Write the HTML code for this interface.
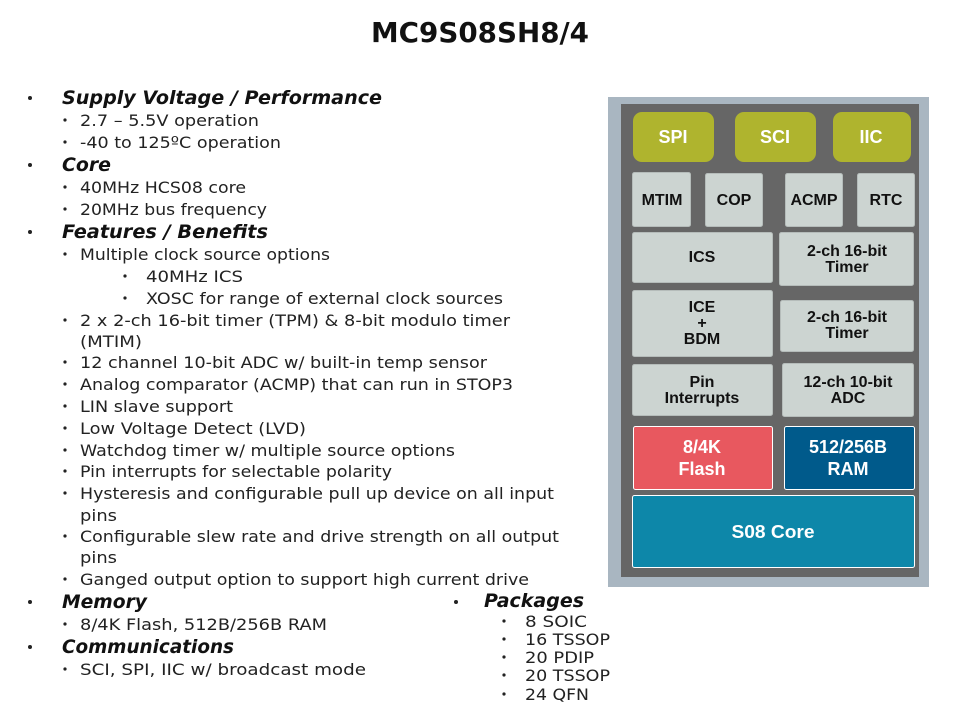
<!DOCTYPE html>
<html>
<head>
<meta charset="utf-8">
<style>
html,body{margin:0;padding:0;background:#fff;}
svg{display:block;}
.t{font-family:"DejaVu Sans","Liberation Sans",sans-serif;font-weight:bold;font-size:28px;fill:#111;}
.h{font-family:"DejaVu Sans","Liberation Sans",sans-serif;font-weight:bold;font-style:italic;font-size:19px;fill:#111;}
.s{font-family:"DejaVu Sans","Liberation Sans",sans-serif;font-size:16px;fill:#222;}
.b{font-family:"Liberation Sans",sans-serif;font-weight:bold;font-size:16px;fill:#111;text-anchor:middle;}
.w{font-family:"Liberation Sans",sans-serif;font-weight:bold;font-size:18px;fill:#fff;text-anchor:middle;}
.box{fill:#ccd4d1;stroke:#b5bcba;stroke-width:1;}
.grn{fill:#afb42e;}
.blk{stroke:#fff;stroke-width:1;}
</style>
</head>
<body>
<svg width="960" height="720" viewBox="0 0 960 720" xmlns="http://www.w3.org/2000/svg">
<rect width="960" height="720" fill="#fff"/>
<text class="t" x="371" y="42" textLength="218" lengthAdjust="spacingAndGlyphs">MC9S08SH8/4</text>

<g fill="#222">
<circle cx="30" cy="98" r="2"/><circle cx="30" cy="165" r="2"/><circle cx="30" cy="232" r="2"/><circle cx="30" cy="602" r="2"/><circle cx="30" cy="647" r="2"/><circle cx="456" cy="602" r="2"/>
<circle cx="65" cy="120" r="1.6"/><circle cx="65" cy="142" r="1.6"/><circle cx="65" cy="187" r="1.6"/><circle cx="65" cy="209" r="1.6"/><circle cx="65" cy="254" r="1.6"/>
<circle cx="125" cy="276" r="1.6"/><circle cx="125" cy="298" r="1.6"/>
<circle cx="65" cy="320" r="1.6"/><circle cx="65" cy="362" r="1.6"/><circle cx="65" cy="384" r="1.6"/><circle cx="65" cy="406" r="1.6"/><circle cx="65" cy="428" r="1.6"/><circle cx="65" cy="450" r="1.6"/><circle cx="65" cy="471" r="1.6"/><circle cx="65" cy="493" r="1.6"/><circle cx="65" cy="536" r="1.6"/><circle cx="65" cy="579" r="1.6"/><circle cx="65" cy="624" r="1.6"/><circle cx="65" cy="669" r="1.6"/>
<circle cx="504" cy="621" r="1.6"/><circle cx="504" cy="639" r="1.6"/><circle cx="504" cy="657" r="1.6"/><circle cx="504" cy="675" r="1.6"/><circle cx="504" cy="694" r="1.6"/>
</g>

<text class="h" x="62" y="104" textLength="320" lengthAdjust="spacingAndGlyphs">Supply Voltage / Performance</text>
<text class="s" x="80" y="126" textLength="179" lengthAdjust="spacingAndGlyphs">2.7 – 5.5V operation</text>
<text class="s" x="80" y="148" textLength="201" lengthAdjust="spacingAndGlyphs">-40 to 125ºC operation</text>
<text class="h" x="62" y="171" textLength="49" lengthAdjust="spacingAndGlyphs">Core</text>
<text class="s" x="80" y="193" textLength="166" lengthAdjust="spacingAndGlyphs">40MHz HCS08 core</text>
<text class="s" x="80" y="215" textLength="187" lengthAdjust="spacingAndGlyphs">20MHz bus frequency</text>
<text class="h" x="62" y="238" textLength="206" lengthAdjust="spacingAndGlyphs">Features / Benefits</text>
<text class="s" x="80" y="260" textLength="250" lengthAdjust="spacingAndGlyphs">Multiple clock source options</text>
<text class="s" x="146" y="282" textLength="97" lengthAdjust="spacingAndGlyphs">40MHz ICS</text>
<text class="s" x="146" y="304" textLength="357" lengthAdjust="spacingAndGlyphs">XOSC for range of external clock sources</text>
<text class="s" x="80" y="326" textLength="430" lengthAdjust="spacingAndGlyphs">2 x 2-ch 16-bit timer (TPM) &amp; 8-bit modulo timer</text>
<text class="s" x="80" y="347" textLength="62" lengthAdjust="spacingAndGlyphs">(MTIM)</text>
<text class="s" x="80" y="368" textLength="407" lengthAdjust="spacingAndGlyphs">12 channel 10-bit ADC w/ built-in temp sensor</text>
<text class="s" x="80" y="390" textLength="433" lengthAdjust="spacingAndGlyphs">Analog comparator (ACMP) that can run in STOP3</text>
<text class="s" x="80" y="412" textLength="153" lengthAdjust="spacingAndGlyphs">LIN slave support</text>
<text class="s" x="80" y="434" textLength="226" lengthAdjust="spacingAndGlyphs">Low Voltage Detect (LVD)</text>
<text class="s" x="80" y="456" textLength="375" lengthAdjust="spacingAndGlyphs">Watchdog timer w/ multiple source options</text>
<text class="s" x="80" y="477" textLength="312" lengthAdjust="spacingAndGlyphs">Pin interrupts for selectable polarity</text>
<text class="s" x="80" y="499" textLength="474" lengthAdjust="spacingAndGlyphs">Hysteresis and configurable pull up device on all input</text>
<text class="s" x="80" y="521" textLength="37" lengthAdjust="spacingAndGlyphs">pins</text>
<text class="s" x="80" y="542" textLength="479" lengthAdjust="spacingAndGlyphs">Configurable slew rate and drive strength on all output</text>
<text class="s" x="80" y="563" textLength="37" lengthAdjust="spacingAndGlyphs">pins</text>
<text class="s" x="80" y="585" textLength="449" lengthAdjust="spacingAndGlyphs">Ganged output option to support high current drive</text>
<text class="h" x="62" y="608" textLength="85" lengthAdjust="spacingAndGlyphs">Memory</text>
<text class="s" x="80" y="630" textLength="247" lengthAdjust="spacingAndGlyphs">8/4K Flash, 512B/256B RAM</text>
<text class="h" x="62" y="653" textLength="172" lengthAdjust="spacingAndGlyphs">Communications</text>
<text class="s" x="80" y="675" textLength="286" lengthAdjust="spacingAndGlyphs">SCI, SPI, IIC w/ broadcast mode</text>

<text class="h" x="484" y="607" textLength="100" lengthAdjust="spacingAndGlyphs">Packages</text>
<text class="s" x="525" y="627" textLength="62" lengthAdjust="spacingAndGlyphs">8 SOIC</text>
<text class="s" x="525" y="645" textLength="85" lengthAdjust="spacingAndGlyphs">16 TSSOP</text>
<text class="s" x="525" y="663" textLength="69" lengthAdjust="spacingAndGlyphs">20 PDIP</text>
<text class="s" x="525" y="681" textLength="85" lengthAdjust="spacingAndGlyphs">20 TSSOP</text>
<text class="s" x="525" y="700" textLength="64" lengthAdjust="spacingAndGlyphs">24 QFN</text>

<rect x="608" y="97" width="321" height="490" fill="#a9b6c1"/>
<rect x="621" y="104" width="298" height="473" fill="#666666"/>

<rect class="grn" x="633" y="112" width="81" height="50" rx="9"/>
<rect class="grn" x="735" y="112" width="81" height="50" rx="9"/>
<rect class="grn" x="833" y="112" width="78" height="50" rx="9"/>
<text class="w" x="673" y="143">SPI</text>
<text class="w" x="775" y="143">SCI</text>
<text class="w" x="871" y="143">IIC</text>

<rect class="box" x="632.5" y="172.5" width="58" height="54" rx="2"/>
<rect class="box" x="705.5" y="173.5" width="57" height="53" rx="2"/>
<rect class="box" x="785.5" y="173.5" width="57" height="53" rx="2"/>
<rect class="box" x="857.5" y="173.5" width="57" height="53" rx="2"/>
<text class="b" x="662" y="205">MTIM</text>
<text class="b" x="734" y="205">COP</text>
<text class="b" x="814" y="205">ACMP</text>
<text class="b" x="886" y="205">RTC</text>

<rect class="box" x="632.5" y="232.5" width="140" height="50" rx="2"/>
<text class="b" x="702" y="262">ICS</text>
<rect class="box" x="779.5" y="232.5" width="134" height="53" rx="2"/>
<text class="b" x="847" y="256">2-ch 16-bit</text>
<text class="b" x="847" y="272">Timer</text>

<rect class="box" x="632.5" y="290.5" width="140" height="66" rx="2"/>
<text class="b" x="702" y="312">ICE</text>
<text class="b" x="702" y="328">+</text>
<text class="b" x="702" y="344">BDM</text>
<rect class="box" x="780.5" y="300.5" width="133" height="51" rx="2"/>
<text class="b" x="847" y="322">2-ch 16-bit</text>
<text class="b" x="847" y="338">Timer</text>

<rect class="box" x="632.5" y="364.5" width="140" height="51" rx="2"/>
<text class="b" x="702" y="387">Pin</text>
<text class="b" x="702" y="403">Interrupts</text>
<rect class="box" x="782.5" y="363.5" width="131" height="53" rx="2"/>
<text class="b" x="848" y="387">12-ch 10-bit</text>
<text class="b" x="848" y="403">ADC</text>

<rect class="blk" x="633.5" y="426.5" width="139" height="63" rx="2" fill="#e8585f"/>
<text class="w" x="702" y="453">8/4K</text>
<text class="w" x="702" y="475">Flash</text>
<rect class="blk" x="784.5" y="426.5" width="130" height="63" rx="2" fill="#005a8b"/>
<text class="w" x="848" y="453">512/256B</text>
<text class="w" x="848" y="475">RAM</text>
<rect class="blk" x="632.5" y="495.5" width="282" height="72" rx="2" fill="#0d87a9"/>
<text class="w" x="773" y="538" textLength="83" lengthAdjust="spacingAndGlyphs">S08 Core</text>
</svg>
</body>
</html>
